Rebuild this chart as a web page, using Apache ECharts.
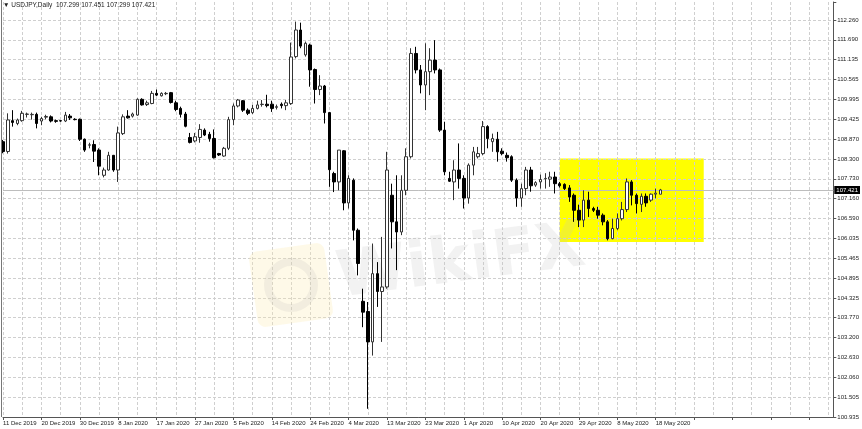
<!DOCTYPE html>
<html><head><meta charset="utf-8">
<script src="https://cdn.jsdelivr.net/npm/echarts@6/dist/echarts.min.js"></script>
<style>html,body{margin:0;padding:0;background:#fff}#c{width:862px;height:429px}</style>
</head><body><div id="c"></div>
<script>
// ---- data ----
const symbol = 'USDJPY';
const timeframe = 'Daily';
const opens = [108.80,108.52,109.40,109.32,109.40,109.58,109.57,109.58,109.39,109.50,109.51,109.40,109.40,109.39,109.53,109.44,109.44,108.87,108.70,108.72,108.56,107.84,107.99,108.41,107.99,109.03,109.53,109.53,109.56,110.01,109.86,109.89,110.18,110.11,110.17,110.20,109.91,109.75,109.59,108.92,108.82,108.92,109.13,109.01,108.89,108.46,108.39,108.61,109.43,109.82,109.97,109.70,109.63,109.75,109.86,109.87,109.87,109.78,109.87,109.83,109.89,111.23,111.99,111.28,111.56,110.86,110.29,110.39,109.63,107.89,107.65,108.54,107.05,107.70,106.27,104.24,103.95,103.08,105.03,104.52,104.65,107.27,106.51,106.22,107.41,108.37,111.32,110.85,110.42,110.80,111.13,110.85,109.13,107.75,107.65,107.99,107.75,107.19,108.13,108.37,108.46,109.23,108.80,108.87,108.53,108.41,108.37,107.70,107.19,107.46,107.99,107.56,107.65,107.74,107.73,107.79,107.60,107.58,107.48,107.27,106.84,106.56,107.13,106.89,106.84,106.70,106.51,106.03,106.32,106.60,106.86,107.65,107.27,107.01,107.24,107.13,107.30,107.299];
const highs = [108.85,109.61,109.70,109.46,109.68,109.63,109.63,109.63,109.51,109.57,109.55,109.43,109.42,109.65,109.59,109.47,109.46,108.89,108.77,108.84,108.61,108.06,108.51,108.42,109.23,109.58,109.70,109.63,110.04,110.04,109.97,110.25,110.29,110.21,110.22,110.22,109.97,109.80,109.65,109.05,109.05,109.30,109.18,109.08,109.15,108.48,108.65,109.51,109.89,110.02,109.99,109.75,109.85,109.97,109.99,110.14,109.97,109.86,109.92,109.99,111.63,112.23,112.20,111.66,111.60,110.89,110.70,110.42,109.65,107.94,108.56,108.56,107.84,107.75,106.32,104.60,104.22,105.89,105.36,106.08,108.51,107.60,107.84,107.84,108.61,111.47,111.51,110.99,111.61,111.47,111.70,110.89,109.37,107.94,108.27,108.75,107.84,108.18,108.65,108.65,109.39,109.27,109.03,109.08,108.61,108.49,108.41,107.75,107.60,108.08,108.08,107.67,107.86,107.90,107.94,107.94,107.65,107.61,107.56,107.32,107.00,107.41,107.37,106.94,106.94,106.75,106.56,106.60,106.75,107.08,107.75,107.70,107.32,107.32,107.32,107.32,107.46,107.451];
const lows = [108.47,108.46,109.23,109.27,109.37,109.49,109.43,109.18,109.27,109.44,109.35,109.34,109.37,109.36,109.42,109.41,108.82,108.51,108.61,108.22,107.84,107.78,107.97,107.94,107.65,108.99,109.46,109.49,109.54,109.83,109.82,109.87,110.10,110.09,110.13,109.89,109.67,109.49,109.21,108.75,108.78,108.77,108.96,108.80,108.32,108.39,108.37,108.56,109.27,109.78,109.65,109.56,109.59,109.72,109.80,109.78,109.65,109.72,109.75,109.70,109.85,111.18,111.47,111.23,110.37,109.89,110.13,109.32,107.51,107.36,107.41,106.84,106.89,105.98,104.98,103.50,101.17,102.69,104.08,103.08,104.60,105.75,105.13,106.13,107.27,108.32,110.75,110.18,109.70,110.13,110.75,109.08,107.84,107.65,107.13,107.46,106.89,107.03,107.84,108.32,108.41,108.61,108.51,108.23,108.41,108.23,107.65,106.94,106.94,107.27,107.37,107.51,107.46,107.46,107.51,107.32,107.49,107.42,107.08,106.51,106.36,106.36,106.65,106.79,106.60,106.41,105.98,106.01,106.27,106.55,106.79,106.98,106.75,106.79,106.94,107.08,107.18,107.299];
const closes = [108.52,109.42,109.35,109.42,109.61,109.59,109.58,109.32,109.46,109.52,109.39,109.38,109.39,109.56,109.48,109.43,108.87,108.56,108.71,108.53,108.10,107.99,108.41,107.99,109.05,109.51,109.48,109.59,110.01,109.85,109.91,110.18,110.13,110.18,110.18,109.92,109.72,109.58,109.24,108.78,108.94,109.15,108.99,108.89,108.34,108.42,108.61,109.43,109.82,109.99,109.70,109.61,109.75,109.85,109.87,109.83,109.75,109.80,109.83,109.91,111.22,111.99,111.53,111.61,110.85,110.29,110.39,109.63,108.00,107.65,108.56,107.05,107.75,106.27,105.32,103.93,103.08,105.03,104.52,104.65,107.99,106.51,106.22,107.41,108.37,111.32,110.85,110.42,110.80,111.13,110.85,109.13,107.94,107.67,107.99,107.75,107.19,108.13,108.51,108.46,109.23,108.89,108.89,108.51,108.46,108.34,107.70,107.19,107.46,107.99,107.54,107.63,107.72,107.75,107.79,107.60,107.54,107.46,107.22,106.84,106.56,107.13,106.89,106.84,106.70,106.51,106.03,106.32,106.60,106.86,107.65,107.27,107.03,107.24,107.05,107.30,107.33,107.421];
const yTickLabels = ['100.935','101.505','102.060','102.630','103.200','103.770','104.325','104.895','105.465','106.035','106.590','107.160','107.730','108.300','108.870','109.425','109.995','110.565','111.135','111.690','112.260'];
const bidPrice = 107.421;
const highlightBox = {fromIndex: 116, toIndex: 146, top: 108.32, bottom: 105.934};

// ---- categories: daily bars, Sunday-Friday sessions, starting 11 Dec 2019 ----
const monthNames = ['Jan','Feb','Mar','Apr','May','Jun','Jul','Aug','Sep','Oct','Nov','Dec'];
const totalSlots = 174; // includes empty chart-shift area on the right
const categories = [];
let d = new Date(Date.UTC(2019, 11, 11));
for (let i = 0; i < totalSlots; i++) {
  categories.push(i < opens.length ? (d.getUTCDate() + ' ' + monthNames[d.getUTCMonth()] + ' ' + d.getUTCFullYear()) : '');
  do { d = new Date(d.getTime() + 86400000); } while (d.getUTCDay() === 6);
}
const candleData = opens.map((o, i) => [o, closes[i], lows[i], highs[i]]);

const yMin = 100.935;
const yStep = yMin / 178;
const last = opens.length - 1;

const chart = echarts.init(document.getElementById('c'), null, {renderer: 'canvas'});
const fontFamily = 'Liberation Sans, Arial, sans-serif';
chart.setOption({
  animation: false,
  backgroundColor: '#ffffff',
  title: {
    text: '\u25BC ' + symbol + ',' + timeframe + '  ' + opens[last].toFixed(3) + ' ' + highs[last].toFixed(3) + ' ' + lows[last].toFixed(3) + ' ' + closes[last].toFixed(3),
    left: 3, top: 2, padding: 0,
    textStyle: {fontSize: 6.5, fontWeight: 'normal', color: '#222', fontFamily: fontFamily}
  },
  grid: {left: 2, right: 27, top: 2, bottom: 12, containLabel: false},
  xAxis: {
    type: 'category', data: categories, boundaryGap: false, z: 1.5,
    axisLine: {show: true, lineStyle: {color: '#555', width: 1}},
    axisTick: {show: true, interval: 7, length: 3, lineStyle: {color: '#555'}},
    axisLabel: {interval: 7, align: 'left', fontSize: 6, color: '#222', margin: 3, fontFamily: fontFamily},
    splitLine: {show: true, interval: 3, lineStyle: {color: '#cfcfcf', type: [3, 2], width: 1}}
  },
  yAxis: {
    type: 'value', position: 'right', min: yMin, max: 112.79, interval: yStep, z: 1.5,
    axisLine: {show: true, lineStyle: {color: '#555', width: 1}},
    axisTick: {show: true, length: 3, lineStyle: {color: '#555'}},
    axisLabel: {
      fontSize: 6, color: '#222', margin: 4, fontFamily: fontFamily,
      formatter: function (v) {
        const i = Math.round((v - yMin) / yStep);
        if (i < 0 || i >= yTickLabels.length) return '';
        if (Math.abs(v - (yMin + i * yStep)) > yStep * 0.2) return '';
        return yTickLabels[i];
      }
    },
    splitLine: {show: true, showMaxLine: false, lineStyle: {color: '#cfcfcf', type: [3, 2], width: 1}}
  },
  graphic: [
    {type: 'line', z: 3, shape: {x1: 1.5, y1: 0, x2: 1.5, y2: 417}, style: {stroke: '#777', lineWidth: 1}},
    {type: 'rect', z: 1.6, x: 291, y: 285, rotation: 0.14,
     shape: {x: -38, y: -38, width: 76, height: 76, r: 8}, style: {fill: 'rgba(252,234,180,0.30)'}},
    {type: 'circle', z: 1.6, x: 291, y: 285, shape: {cx: 0, cy: 0, r: 23},
     style: {fill: 'none', stroke: 'rgba(160,160,160,0.13)', lineWidth: 8}},
    {type: 'text', z: 1.6, x: 461, y: 264, rotation: 0.13,
     style: {text: 'WikiFX', fontSize: 64, fontWeight: 'bold', fontFamily: 'DejaVu Sans, sans-serif',
             fill: 'rgba(195,195,195,0.22)', align: 'center', verticalAlign: 'middle'}}
  ],
  series: [{
    type: 'candlestick', data: candleData, barWidth: 3, z: 2,
    itemStyle: {color: '#ffffff', color0: '#000000', borderColor: '#333333', borderColor0: '#000000', borderWidth: 1},
    markLine: {
      silent: true, symbol: 'none', z: 1.8, animation: false,
      lineStyle: {color: '#bdbdbd', type: 'solid', width: 1},
      label: {position: 'end', distance: 1, formatter: bidPrice.toFixed(3), backgroundColor: '#000', color: '#fff',
              fontSize: 6, padding: [1, 2, 1, 2], fontFamily: fontFamily},
      data: [{yAxis: bidPrice}]
    },
    markArea: {
      silent: true, z: 1, animation: false,
      itemStyle: {color: '#ffff00'},
      label: {show: false},
      data: [[{xAxis: highlightBox.fromIndex, yAxis: highlightBox.top}, {xAxis: highlightBox.toIndex, yAxis: highlightBox.bottom}]]
    }
  }]
});
</script>
</body></html>
